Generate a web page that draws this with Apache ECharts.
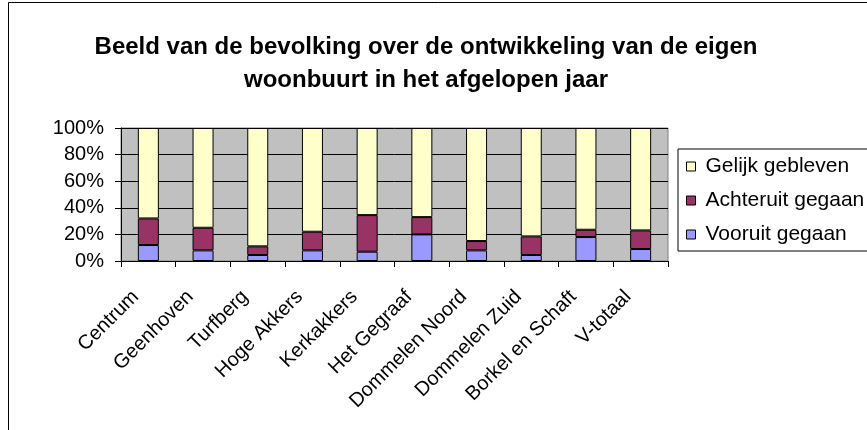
<!DOCTYPE html>
<html>
<head>
<meta charset="utf-8">
<script src="https://cdn.jsdelivr.net/npm/echarts@6/dist/echarts.min.js"></script>
<style>
  html, body { margin: 0; padding: 0; background: #fff; }
  #container { width: 867px; height: 430px; }
</style>
</head>
<body>
<div id="container"></div>
<script>
const wijken = ['Centrum', 'Geenhoven', 'Turfberg', 'Hoge Akkers', 'Kerkakkers', 'Het Gegraaf', 'Dommelen Noord', 'Dommelen Zuid', 'Borkel en Schaft', 'V-totaal'];
const vooruit = [12, 8, 4.5, 8, 7, 20, 8, 4.5, 18, 9];
const achteruit = [20, 17, 6.5, 14, 27.5, 13, 7, 14, 5.5, 14];
const gelijk = [68, 75, 89, 78, 65.5, 67, 85, 81.5, 76.5, 77];
const yTicks = [0, 20, 40, 60, 80, 100];

const dom = document.getElementById('container');
const myChart = echarts.init(dom);

const font = 'Liberation Sans, Arial, sans-serif';

const bar = (name, data, color) => ({
	name: name,
	type: 'bar',
	stack: 'totaal',
	data: data,
	barWidth: 21,
	itemStyle: { color: color, borderColor: '#000', borderWidth: 1 },
	emphasis: { disabled: true },
});

const option = {
	animation: false,
	backgroundColor: '#fff',
	textStyle: { fontFamily: font },
	title: {
		text: 'Beeld van de bevolking over de ontwikkeling van de eigen\nwoonbuurt in het afgelopen jaar',
		left: 421,
		top: 26,
		textAlign: 'center',
		textStyle: { fontFamily: font, fontSize: 24, fontWeight: 'bold', color: '#000', lineHeight: 33 },
	},
	graphic: [
		{
			type: 'rect',
			shape: { x: 8.5, y: 2.5, width: 1000, height: 1000 },
			style: { fill: 'none', stroke: '#000', lineWidth: 1 },
			silent: true,
		},
	],
	legend: {
		orient: 'vertical',
		left: 678,
		top: 149,
		padding: [7, 30, 6, 8],
		itemGap: 13,
		itemWidth: 9,
		itemHeight: 9,
		borderColor: '#000',
		borderWidth: 1,
		icon: 'rect',
		itemStyle: { borderColor: '#000', borderWidth: 1 },
		textStyle: { fontFamily: font, fontSize: 21, color: '#000', padding: [0, 0, 0, 5] },
		data: ['Gelijk gebleven', 'Achteruit gegaan', 'Vooruit gegaan'],
	},
	grid: {
		left: 121,
		right: 199,
		top: 128,
		bottom: 169,
		show: true,
		backgroundColor: '#C0C0C0',
		borderColor: '#808080',
		borderWidth: 1,
	},
	xAxis: {
		type: 'category',
		data: wijken,
		axisLine: { lineStyle: { color: '#000' } },
		axisTick: { show: true, length: 6, lineStyle: { color: '#000' } },
		axisLabel: { rotate: 45, fontSize: 20, color: '#000', margin: 20, padding: [0, 18, 0, 0], fontFamily: font },
	},
	yAxis: {
		type: 'value',
		min: yTicks[0],
		max: yTicks[yTicks.length - 1],
		interval: 20,
		axisLine: { show: true, lineStyle: { color: '#000' } },
		axisTick: { show: true, length: 6, lineStyle: { color: '#000' } },
		splitLine: { lineStyle: { color: '#000', width: 1 } },
		axisLabel: { formatter: '{value}%', fontSize: 20, color: '#000', margin: 17, fontFamily: font },
	},
	series: [
		bar('Vooruit gegaan', vooruit, '#9999FF'),
		bar('Achteruit gegaan', achteruit, '#993366'),
		bar('Gelijk gebleven', gelijk, '#FFFFCC'),
	],
};

myChart.setOption(option);
</script>
</body>
</html>
